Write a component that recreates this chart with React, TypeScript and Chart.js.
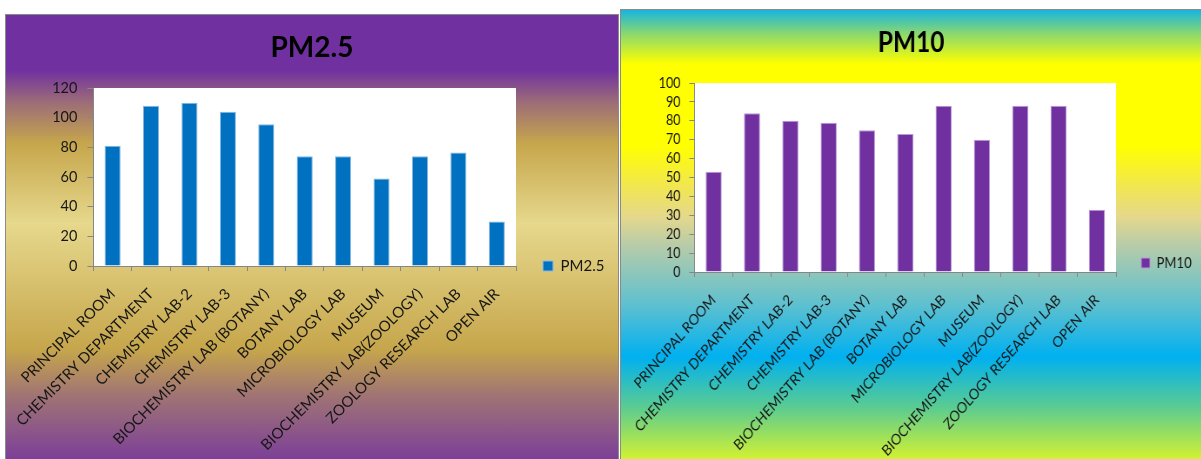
import React, { useEffect, useRef } from "react";
import { Chart, registerables } from "chart.js";

Chart.register(...registerables);

// ---------- data ----------
const categories = [
  "PRINCIPAL ROOM",
  "CHEMISTRY DEPARTMENT",
  "CHEMISTRY LAB-2",
  "CHEMISTRY LAB-3",
  "BIOCHEMISTRY LAB (BOTANY)",
  "BOTANY LAB",
  "MICROBIOLOGY LAB",
  "MUSEUM",
  "BIOCHEMISTRY LAB(ZOOLOGY)",
  "ZOOLOGY RESEARCH LAB",
  "OPEN AIR",
];
const pm25Values = [81, 108, 110, 104, 95.5, 74, 74, 59, 74, 76.5, 30];
const pm10Values = [53, 84, 80, 79, 75, 73, 88, 70, 88, 88, 33];
const pm25YTicks = [0, 20, 40, 60, 80, 100, 120];
const pm10YTicks = [0, 10, 20, 30, 40, 50, 60, 70, 80, 90, 100];

const FONT = "Lato, 'Open Sans', sans-serif";
const TEXT = "#161616";
const AXIS = "#868686";

const plotBg = {
  id: "plotBg",
  beforeDraw(chart: any) {
    const { ctx, chartArea } = chart;
    if (!chartArea) return;
    ctx.save();
    ctx.fillStyle = "#ffffff";
    ctx.fillRect(chartArea.left, chartArea.top, chartArea.right - chartArea.left, chartArea.bottom - chartArea.top);
    ctx.restore();
  },
};

const legendFix = {
  id: "legendFix",
  beforeLayout(chart: any, _a: any, opts: any) {
    const lg = chart.legend;
    if (lg && !lg._fixed) {
      const fit = lg.fit.bind(lg);
      lg.fit = () => {
        fit();
        lg.width = opts.width;
      };
      lg._fixed = true;
    }
  },
  afterLayout(chart: any, _a: any, opts: any) {
    const lg = chart.legend;
    if (lg) {
      lg.top = opts.centerY - 30;
      lg.bottom = opts.centerY + 30;
      lg.height = 60;
    }
  },
};

type Spec = {
  title: string;
  values: number[];
  yTicks: number[];
  color: string;
  edge: string;
  w: number;
  h: number;
  scaleX: number;
  plotLeft: number;
  plotRight: number;
  plotBottom: number;
  legendPad: number;
  legendCenterY: number;
};

function BarPanel({ spec }: { spec: Spec }) {
  const ref = useRef<HTMLCanvasElement>(null);
  useEffect(() => {
    const canvas = ref.current!;
    const tickFont = { family: FONT, size: 14.5 };
    const chart = new Chart(canvas, {
      type: "bar",
      data: {
        labels: categories,
        datasets: [
          {
            label: spec.title,
            data: spec.values,
            backgroundColor: spec.color,
            borderColor: spec.edge,
            borderWidth: 1,
            categoryPercentage: 1,
            barPercentage: 0.42,
          },
        ],
      },
      options: {
        animation: false,
        responsive: false,
        devicePixelRatio: 1,
        layout: { padding: { left: 0, right: 0, top: 0, bottom: 0 } },
        plugins: {
          title: {
            display: true,
            text: spec.title,
            color: "#000000",
            font: { family: FONT, size: 28, weight: "bold" },
            padding: { top: 16, bottom: 23.4 },
          },
          legend: {
            display: true,
            position: "right",
            align: "center",
            fullSize: false,
            labels: {
              boxWidth: 10,
              boxHeight: 10,
              padding: spec.legendPad,
              color: TEXT,
              font: { family: FONT, size: 15 },
            },
          },
          tooltip: { enabled: false },
          legendFix: { width: spec.w - spec.plotRight, centerY: spec.legendCenterY },
        } as any,
        scales: {
          x: {
            offset: true,
            grid: {
              display: true,
              offset: true,
              drawOnChartArea: false,
              drawTicks: true,
              tickLength: 5,
              color: AXIS,
            },
            border: { display: true, color: AXIS, width: 1 },
            ticks: {
              autoSkip: false,
              minRotation: 45,
              maxRotation: 45,
              padding: 14,
              color: TEXT,
              font: { family: FONT, size: 15 },
            },
            afterFit: (s: any) => {
              s.height = spec.h - spec.plotBottom;
            },
          },
          y: {
            min: spec.yTicks[0],
            max: spec.yTicks[spec.yTicks.length - 1],
            grid: {
              display: true,
              drawOnChartArea: false,
              drawTicks: true,
              tickLength: 6,
              color: AXIS,
            },
            border: { display: true, color: AXIS, width: 1 },
            ticks: { autoSkip: false, padding: 10, color: TEXT, font: tickFont },
            afterBuildTicks: (s: any) => {
              s.ticks = spec.yTicks.map((v) => ({ value: v }));
            },
            afterFit: (s: any) => {
              s.width = spec.plotLeft;
            },
          },
        },
      } as any,
      plugins: [plotBg, legendFix],
    });
    return () => chart.destroy();
  }, [spec]);
  return (
    <canvas
      ref={ref}
      width={spec.w}
      height={spec.h}
      style={{
        display: "block",
        width: spec.w,
        height: spec.h,
        transform: `scaleX(${spec.scaleX})`,
        transformOrigin: "0 0",
      }}
    />
  );
}

const leftSpec: Spec = {
  title: "PM2.5",
  values: pm25Values,
  yTicks: pm25YTicks,
  color: "#0070C0",
  edge: "#86B8E2",
  w: 612,
  h: 444,
  scaleX: 1,
  plotLeft: 86,
  plotRight: 510,
  plotBottom: 251,
  legendPad: 27,
  legendCenterY: 251,
};

const rightScale = 0.87;
const rightSpec: Spec = {
  title: "PM10",
  values: pm10Values,
  yTicks: pm10YTicks,
  color: "#7030A0",
  edge: "#B89AD2",
  w: Math.round(580 / rightScale),
  h: 449,
  scaleX: rightScale,
  plotLeft: Math.round(73 / rightScale),
  plotRight: Math.round(495 / rightScale),
  plotBottom: 262,
  legendPad: Math.round(25 / rightScale),
  legendCenterY: 253,
};

const leftBg =
  "linear-gradient(to bottom, #7030A0 0%, #7030A0 12%, #9C6C78 19%, #C6A64C 28%, #E6D88C 45.5%, #C6A64C 73%, #A07474 83%, #7434A0 100%)";
const rightBg =
  "linear-gradient(to bottom, #18B4E0 0%, #88D870 5.1%, #FFFF00 11.8%, #FFFF00 29.6%, #F0E458 39.4%, #E4D88C 45.2%, #B8CCA8 51.2%, #5CC0D0 64.6%, #00B0F0 75.7%, #5CCC90 86.9%, #E8F820 100%)";

export default function App() {
  return (
    <div
      style={{
        position: "fixed",
        left: 0,
        top: 0,
        width: 1201,
        height: 459,
        background: "#ffffff",
        overflow: "hidden",
      }}
    >
      <div
        style={{
          position: "absolute",
          left: 5,
          top: 14,
          width: 614,
          height: 460,
          boxSizing: "border-box",
          border: "1px solid #8a8a8a",
          background: leftBg,
          overflow: "hidden",
        }}
      >
        <BarPanel spec={leftSpec} />
      </div>
      <div
        style={{
          position: "absolute",
          left: 620,
          top: 9,
          width: 600,
          height: 460,
          boxSizing: "border-box",
          border: "1px solid #8a8a8a",
          background: rightBg,
          overflow: "hidden",
        }}
      >
        <BarPanel spec={rightSpec} />
      </div>
    </div>
  );
}
